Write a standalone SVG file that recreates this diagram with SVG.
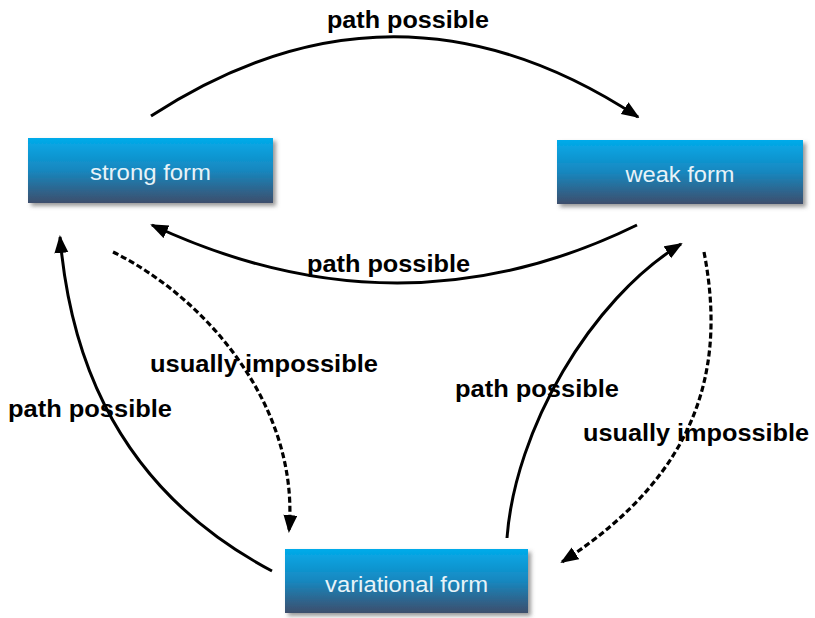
<svg xmlns="http://www.w3.org/2000/svg" width="815" height="618" viewBox="0 0 815 618">
<style>
.box{fill:url(#boxGrad);filter:url(#shadow)}
.btxt{font-family:"Liberation Sans",Arial,sans-serif;font-size:22px;fill:#e8f3f8;text-anchor:middle}
.lbl{font-family:"Liberation Sans",Arial,sans-serif;font-size:23px;font-weight:bold;fill:#000}
.conn{fill:none;stroke:#000;stroke-width:3;marker-end:url(#arrow)}
.dash{fill:none;stroke:#000;stroke-width:3.2;stroke-dasharray:6 3;marker-end:url(#arrow)}
</style>
<defs>
<linearGradient id="boxGrad" x1="0" y1="0" x2="0" y2="1">
<stop offset="0" stop-color="#03abea"/>
<stop offset="0.5" stop-color="#1787bf"/>
<stop offset="1" stop-color="#3d4e6c"/>
</linearGradient>
<filter id="shadow" x="-10%" y="-20%" width="125%" height="150%">
<feDropShadow dx="3" dy="3" stdDeviation="2" flood-color="#555" flood-opacity="0.6"/>
</filter>
<marker id="arrow" markerUnits="userSpaceOnUse" markerWidth="20" markerHeight="16" viewBox="0 0 20 16" refX="16" refY="7" orient="auto">
<path d="M0,0 L18,7 L0,14 z" fill="#000"/>
</marker>
</defs>
<rect width="815" height="618" fill="#fff"/>
<g id="connectors">
<path id="c-strong-weak" class="conn" d="M151,116 Q395,-43 638,117"/>
<path id="c-weak-strong" class="conn" d="M637,225 Q400,341 152,225"/>
<path id="c-var-strong" class="conn" d="M272,571 C100,480 68,330 60,237"/>
<path id="c-strong-var" class="dash" d="M113,252 C210,300 300,410 289,531"/>
<path id="c-var-weak" class="conn" d="M507,538 C515,430 590,300 681,244"/>
<path id="c-weak-var" class="dash" d="M704,252 C725,360 705,470 562,562"/>
</g>
<g id="labels">
<text class="lbl" x="327" y="28" textLength="162" lengthAdjust="spacingAndGlyphs">path possible</text>
<text class="lbl" x="307" y="272" textLength="163" lengthAdjust="spacingAndGlyphs">path possible</text>
<text class="lbl" x="8" y="417" textLength="164" lengthAdjust="spacingAndGlyphs">path possible</text>
<text class="lbl" x="150" y="372" textLength="228" lengthAdjust="spacingAndGlyphs">usually impossible</text>
<text class="lbl" x="455" y="397" textLength="164" lengthAdjust="spacingAndGlyphs">path possible</text>
<text class="lbl" x="583" y="441" textLength="226" lengthAdjust="spacingAndGlyphs">usually impossible</text>
</g>
<g id="strong-form">
<rect class="box" x="28" y="138" width="245" height="65"/>
<text class="btxt" x="150.5" y="180" textLength="121" lengthAdjust="spacingAndGlyphs">strong form</text>
</g>
<g id="weak-form">
<rect class="box" x="557" y="140" width="246" height="64"/>
<text class="btxt" x="680" y="182" textLength="109" lengthAdjust="spacingAndGlyphs">weak form</text>
</g>
<g id="variational-form">
<rect class="box" x="285" y="549" width="243" height="64"/>
<text class="btxt" x="406.5" y="592" textLength="163" lengthAdjust="spacingAndGlyphs">variational form</text>
</g>
</svg>
